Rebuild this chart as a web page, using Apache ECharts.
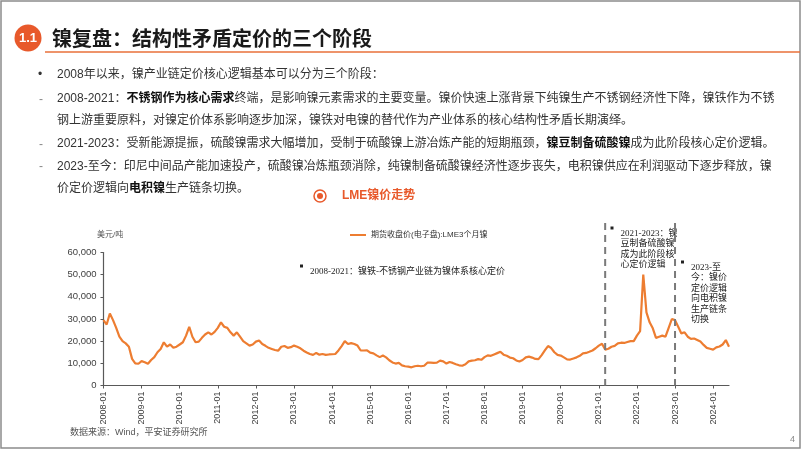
<!DOCTYPE html>
<html><head><meta charset="utf-8">
<script src="https://cdn.jsdelivr.net/npm/echarts@6/dist/echarts.min.js"></script>
<style>html,body{margin:0;padding:0;background:#fff}#c{width:802px;height:451px}</style>
</head><body><div id="c"></div>
<script>
// ---- data ----
const startYear = 2008, endYear = 2024, endMonth = 6;
const categories = [];
for (let y = startYear; y <= endYear; y++) {
  for (let m = 1; m <= 12; m++) {
    if (y === endYear && m > endMonth) break;
    categories.push(y + '-' + (m < 10 ? '0' + m : m));
  }
}
// LME 3-month nickel, USD/t (monthly)
const lmeNickel3M = [
  29500, 27500, 32500, 29500, 26000, 22000, 20000, 19000, 17500, 12000, 10000, 9800,   // 2008
  11000, 10500, 9800, 11500, 12800, 15000, 16500, 19500, 17500, 18500, 17000, 17500,   // 2009
  18500, 19500, 22500, 26500, 22000, 19500, 19800, 21500, 23000, 24000, 23000, 24200,  // 2010
  26000, 28500, 26500, 26000, 24000, 22500, 24000, 22000, 20000, 19000, 18000, 18500,  // 2011
  19800, 20300, 18700, 17900, 17000, 16500, 16000, 15700, 17500, 17800, 17000, 17300,  // 2012
  18000, 17500, 16800, 15700, 14900, 14200, 13800, 14700, 13900, 14200, 13800, 14000,  // 2013
  14100, 14200, 15800, 17800, 20000, 18700, 19100, 18700, 18000, 15800, 15800, 15900,  // 2014
  14800, 14500, 13600, 12800, 13500, 12700, 11400, 10400, 9900, 10200, 9100, 8700,     // 2015
  8500, 8200, 8700, 8900, 8700, 8900, 10300, 10300, 10200, 10300, 11200, 10900,        // 2016
  9900, 10600, 10200, 9600, 9100, 8900, 9600, 10900, 11200, 11400, 11900, 11600,       // 2017
  12800, 13600, 13400, 14000, 14600, 15200, 13900, 13400, 12600, 12300, 11300, 10800,  // 2018
  11500, 12700, 13000, 12600, 12000, 11900, 13700, 15800, 17800, 16900, 15000, 13800,  // 2019
  13500, 12700, 11800, 11700, 12200, 12700, 13400, 14500, 14700, 15200, 15800, 16800,  // 2020
  18000, 18800, 16200, 16600, 17500, 17900, 19000, 19300, 19200, 19600, 20000, 20000,  // 2021
  22500, 24500, 50000, 33000, 28500, 25800, 21500, 22000, 22500, 22000, 26000, 30000,  // 2022
  29500, 26500, 23500, 24000, 22000, 21000, 21200, 20500, 19800, 18300, 17000, 16600,  // 2023
  16200, 17200, 17600, 18500, 20500, 17500                                              // 2024
];
const yTicks = [0, 10000, 20000, 30000, 40000, 50000, 60000];
const phaseMarks = ['2021-03', '2023-01'];
const seriesName = '期货收盘价(电子盘):LME3个月镍';

// ---- chart ----
const FONT = 'Liberation Sans, Arial, Noto Sans CJK SC, sans-serif';
const SERIF = 'Liberation Serif, Noto Sans CJK SC, serif';
const chart = echarts.init(document.getElementById('c'), null, {renderer: 'canvas'});

const option = {
  backgroundColor: '#fff',
  animation: false,
  grid: {left: 103.5, right: 73, top: 252.5, bottom: 65.5, containLabel: false},
  legend: {
    show: true, left: 345, top: 226, icon: 'rect', itemWidth: 16, itemHeight: 2,
    textStyle: {fontSize: 8, color: '#333', fontFamily: FONT},
    data: [seriesName]
  },
  xAxis: {
    type: 'category', data: categories, boundaryGap: false,
    axisLine: {lineStyle: {color: '#595959', width: 1.2}},
    axisTick: {show: true, length: 3, interval: (i) => i % 12 === 0, lineStyle: {color: '#595959'}},
    axisLabel: {rotate: 90, fontSize: 9, color: '#404040', fontFamily: FONT, margin: 6,
      interval: (i) => i % 12 === 0},
    splitLine: {show: false}
  },
  yAxis: {
    type: 'value', min: yTicks[0], max: yTicks[yTicks.length - 1], interval: 10000,
    axisLine: {show: true, lineStyle: {color: '#595959', width: 1.2}},
    axisTick: {show: true, length: 3, lineStyle: {color: '#595959'}},
    axisLabel: {fontSize: 9.5, color: '#404040', fontFamily: FONT, margin: 7},
    splitLine: {show: false}
  },
  series: [{
    name: seriesName, type: 'line', data: lmeNickel3M, showSymbol: false, symbol: 'none',
    lineStyle: {color: '#ED7D31', width: 2.2}, itemStyle: {color: '#ED7D31'}
  }]
};
chart.setOption(option);

function bodyLine(y, parts) {
  return {
    type: 'text', x: 57, y: y,
    style: {
      text: parts.map(p => p[1] ? '{b|' + p[0] + '}' : '{n|' + p[0] + '}').join(''),
      textVerticalAlign: 'middle', verticalAlign: 'middle',
      rich: {
        n: {fontSize: 12, fontFamily: FONT, fill: '#333', color: '#333'},
        b: {fontSize: 12, fontFamily: FONT, fontWeight: 'bold', fill: '#111', color: '#111'}
      }
    }
  };
}
function plain(x, y, text, size, color, extra) {
  return Object.assign({type: 'text', x: x, y: y, style: Object.assign({
    text: text, fontSize: size, fontFamily: FONT, fill: color,
    textVerticalAlign: 'middle', verticalAlign: 'middle'}, extra || {})});
}
function annot(x, y, lines) {
  const els = [{type: 'rect', shape: {x: x - 10, y: y - 1.5, width: 3, height: 3}, style: {fill: '#222'}}];
  els.push({type: 'text', x: x, y: y, style: {
    text: lines.join('\n'), fontSize: 9, fontFamily: SERIF, fill: '#222', lineHeight: 10.5,
    textVerticalAlign: 'top', verticalAlign: 'top'}, position: [0, -5]});
  return els;
}

const markX = phaseMarks.map(c => chart.convertToPixel({xAxisIndex: 0}, c));
const y0 = chart.convertToPixel({yAxisIndex: 0}, 0);

const graphics = [
  {type: 'rect', shape: {x: 1, y: 1, width: 799, height: 447}, style: {fill: 'none', stroke: '#8c8c8c', lineWidth: 1.5}},
  {type: 'circle', shape: {cx: 28, cy: 38, r: 13.5}, style: {fill: '#E8592B'}},
  plain(28, 38.5, '1.1', 13, '#fff', {fontWeight: 'bold', textAlign: 'center', align: 'center'}),
  plain(52, 38, '镍复盘：结构性矛盾定价的三个阶段', 20, '#1a1a1a', {fontWeight: 'bold', fontFamily: 'Noto Sans CJK SC'}),
  {type: 'line', shape: {x1: 45, y1: 52, x2: 800, y2: 52}, style: {stroke: '#E8703A', lineWidth: 1.5}},
  plain(38, 75, '•', 12, '#333'),
  plain(39, 100, '-', 12, '#888'),
  plain(39, 145, '-', 12, '#888'),
  plain(39, 167, '-', 12, '#888'),
  bodyLine(75, [['2008年以来，镍产业链定价核心逻辑基本可以分为三个阶段：', false]]),
  bodyLine(99, [['2008-2021：', false], ['不锈钢作为核心需求', true], ['终端，是影响镍元素需求的主要变量。镍价快速上涨背景下纯镍生产不锈钢经济性下降，镍铁作为不锈', false]]),
  bodyLine(121, [['钢上游重要原料，对镍定价体系影响逐步加深，镍铁对电镍的替代作为产业体系的核心结构性矛盾长期演绎。', false]]),
  bodyLine(144, [['2021-2023：受新能源提振，硫酸镍需求大幅增加，受制于硫酸镍上游冶炼产能的短期瓶颈，', false], ['镍豆制备硫酸镍', true], ['成为此阶段核心定价逻辑。', false]]),
  bodyLine(167, [['2023-至今：印尼中间品产能加速投产，硫酸镍冶炼瓶颈消除，纯镍制备硫酸镍经济性逐步丧失，电积镍供应在利润驱动下逐步释放，镍', false]]),
  bodyLine(189, [['价定价逻辑向', false], ['电积镍', true], ['生产链条切换。', false]]),
  {type: 'circle', shape: {cx: 320, cy: 196, r: 6}, style: {fill: 'none', stroke: '#E8592B', lineWidth: 1.5}},
  {type: 'circle', shape: {cx: 320, cy: 196, r: 3}, style: {fill: '#E8592B'}},
  plain(342, 196, 'LME镍价走势', 12, '#E8592B', {fontWeight: 'bold'}),
  plain(97, 235, '美元/吨', 8, '#555'),
  {type: 'line', shape: {x1: markX[0], y1: 223, x2: markX[0], y2: y0}, style: {stroke: '#7a7a7a', lineWidth: 2, lineDash: [7, 5]}, z: 10},
  {type: 'line', shape: {x1: markX[1], y1: 223, x2: markX[1], y2: y0}, style: {stroke: '#7a7a7a', lineWidth: 2, lineDash: [7, 5]}, z: 10},
  ...annot(310, 266, ['2008-2021：镍铁-不锈钢产业链为镍体系核心定价']),
  ...annot(620.5, 228, ['2021-2023：镍', '豆制备硫酸镍', '成为此阶段核', '心定价逻辑']),
  ...annot(691, 262, ['2023-至', '今：镍价', '定价逻辑', '向电积镍', '生产链条', '切换']),
  plain(70, 433, '数据来源：Wind，平安证券研究所', 9, '#555'),
  plain(790, 440, '4', 9, '#888')
];
chart.setOption({graphic: {elements: graphics}});
</script></body></html>
